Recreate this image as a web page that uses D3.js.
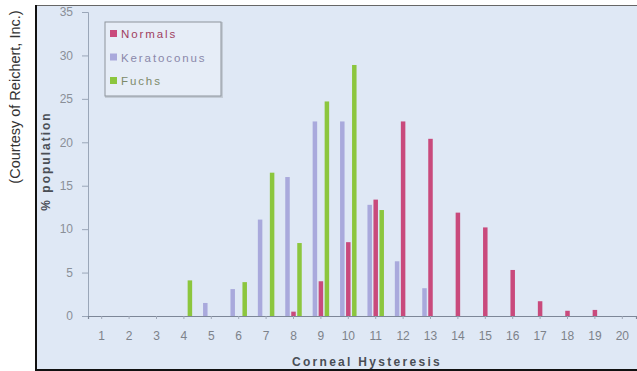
<!DOCTYPE html>
<html><head><meta charset="utf-8">
<script src="https://cdn.jsdelivr.net/npm/d3@7"></script>
<style>
html,body{margin:0;padding:0;background:#fff;}
svg{display:block;font-family:Arial,"Liberation Sans",sans-serif;}
</style></head>
<body>
<svg id="c" width="637" height="371"></svg>
<script>
const categories = d3.range(1, 21).map(String);
const seriesNames = ["Normals", "Keratoconus", "Fuchs"];
const normals     = [0,0,0,0,0,0,0,0.5,4.0,8.5,13.4,22.4,20.4,11.9,10.2,5.3,1.7,0.6,0.7,0];
const keratoconus = [0,0,0,0,1.5,3.1,11.1,16.0,22.4,22.4,12.8,6.3,3.2,0,0,0,0,0,0,0];
const fuchs       = [0,0,0,4.1,0,3.9,16.5,8.4,24.7,28.9,12.2,0,0,0,0,0,0,0,0,0];
const yTicks = [0,5,10,15,20,25,30,35];
const colors = {Normals:"#c94a7c", Keratoconus:"#a9a9dc", Fuchs:"#8cc63e"};
const textColors = {Normals:"#a0405f", Keratoconus:"#8a88aa", Fuchs:"#7d8a6a"};
const groupOrder = ["Keratoconus", "Normals", "Fuchs"];
const values = {Normals: normals, Keratoconus: keratoconus, Fuchs: fuchs};

const svg = d3.select("#c");

// outer frame + background
svg.append("rect").attr("x",36).attr("y",5).attr("width",602).attr("height",365)
  .attr("fill","#dfe8f5");
svg.append("line").attr("x1",36).attr("x2",637).attr("y1",5.5).attr("y2",5.5).attr("stroke","#666").attr("stroke-width",1);
svg.append("line").attr("x1",36).attr("x2",36).attr("y1",5).attr("y2",371).attr("stroke","#111").attr("stroke-width",2);
svg.append("line").attr("x1",36).attr("x2",637).attr("y1",370).attr("y2",370).attr("stroke","#111").attr("stroke-width",2);

// credit text
svg.append("text").attr("transform","translate(20,97) rotate(-90)")
  .attr("text-anchor","middle").attr("font-size",14.5).attr("fill","#333")
  .text("(Courtesy of Reichert, Inc.)");

const x = d3.scaleBand().domain(categories).range([88, 636]).padding(0);
const x1 = d3.scaleBand().domain(groupOrder)
  .range([x.bandwidth()/2 - 9, x.bandwidth()/2 + 9]).paddingInner(0.25).paddingOuter(0.125);
const y = d3.scaleLinear().domain([0, 35]).range([316, 12]);

// bars
groupOrder.forEach(name => {
  svg.append("g").selectAll("rect")
    .data(values[name].map((v,i)=>({c:categories[i], v})))
    .join("rect")
    .attr("x", d => x(d.c) + x1(name))
    .attr("width", x1.bandwidth())
    .attr("y", d => y(d.v))
    .attr("height", d => y(0) - y(d.v))
    .attr("fill", colors[name]);
});

// y axis
const yAxis = svg.append("g").attr("transform","translate(88,0)")
  .call(d3.axisLeft(y).tickValues(yTicks).tickSize(6).tickPadding(9));
yAxis.select(".domain").attr("stroke","#9aa6b8");
yAxis.selectAll(".tick line").attr("stroke","#9aa6b8");
yAxis.selectAll(".tick text").attr("fill","#8a8f98").attr("font-size",12)
  .attr("font-family","Arial,'Liberation Sans',sans-serif");

// x axis
const xAxis = svg.append("g").attr("transform","translate(0,316)")
  .call(d3.axisBottom(x).tickSize(3).tickPadding(12));
xAxis.select(".domain").attr("stroke","#7d8798").attr("stroke-width",1.2);
xAxis.selectAll(".tick line").attr("stroke","#a0a8b8");
xAxis.selectAll(".tick text").attr("fill","#7d828a").attr("font-size",12)
  .attr("font-family","Arial,'Liberation Sans',sans-serif");

// axis titles
svg.append("text").attr("x",367).attr("y",366).attr("text-anchor","middle")
  .attr("font-size",12).attr("font-weight","bold").attr("letter-spacing",2.3)
  .attr("fill","#4a4e56").text("Corneal Hysteresis");
svg.append("text").attr("transform","translate(50,161) rotate(-90)").attr("text-anchor","middle")
  .attr("font-size",12).attr("font-weight","bold").attr("letter-spacing",2)
  .attr("fill","#4a4e56").text("% population");

// legend
const lg = svg.append("g");
lg.append("rect").attr("x",106).attr("y",23).attr("width",116).attr("height",74)
  .attr("fill","none").attr("stroke","#c4ccd6").attr("stroke-width",2);
lg.append("rect").attr("x",105).attr("y",22).attr("width",116).attr("height",74)
  .attr("fill","#e6edf7").attr("stroke","#8e949c");
seriesNames.forEach((name,i) => {
  const yy = 34 + i*23.5;
  lg.append("rect").attr("x",110).attr("y",yy-4).attr("width",7).attr("height",7).attr("fill",colors[name]);
  lg.append("text").attr("x",121).attr("y",yy+4).attr("font-size",11.5).attr("letter-spacing",1.9)
    .attr("fill",textColors[name]).text(name);
});
</script>
</body></html>
